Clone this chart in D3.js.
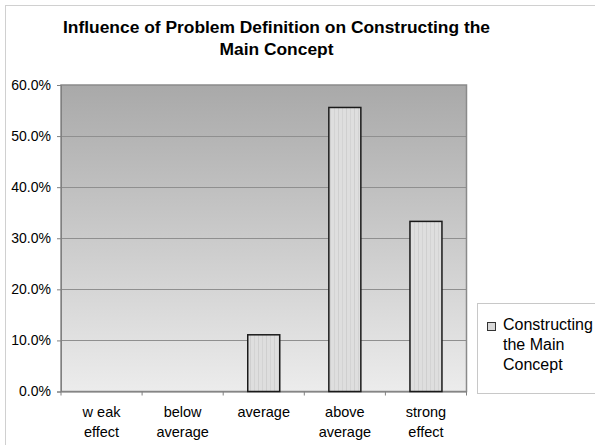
<!DOCTYPE html>
<html><head><meta charset="utf-8">
<script src="https://cdn.jsdelivr.net/npm/d3@7"></script>
<style>body{margin:0;background:#fff}svg{display:block;font-family:"Liberation Sans",Arial,sans-serif}</style>
</head><body>
<script>
const categories = [["w eak","effect"],["below","average"],["average"],["above","average"],["strong","effect"]];
const values = [0, 0, 0.111, 0.556, 0.333];
const yTicks = [0, 0.1, 0.2, 0.3, 0.4, 0.5, 0.6];
const seriesName = ["Constructing", "the Main", "Concept"];
const titleLines = ["Influence of Problem Definition on Constructing the", "Main Concept"];

const W = 595, H = 445;
const svg = d3.select("body").append("svg").attr("width", W).attr("height", H);
const defs = svg.append("defs");
const grad = defs.append("linearGradient").attr("id","bg").attr("x1",0).attr("y1",0).attr("x2",0).attr("y2",1);
grad.append("stop").attr("offset","0%").attr("stop-color","#a9a9a9");
grad.append("stop").attr("offset","100%").attr("stop-color","#ececec");
const pat = defs.append("pattern").attr("id","stripes").attr("patternUnits","userSpaceOnUse").attr("width",8).attr("height",8);
pat.append("rect").attr("width",8).attr("height",8).attr("fill","#dedede");
pat.append("rect").attr("x",2).attr("width",1).attr("height",8).attr("fill","#cfcfcf");
pat.append("rect").attr("x",6).attr("width",1).attr("height",8).attr("fill","#d3d3d3");

// outer chart frame
svg.append("rect").attr("x",5.5).attr("y",5.5).attr("width",W).attr("height",H).attr("fill","none").attr("stroke","#d0d0d0");

const m = {left:61, right:466.5, top:85, bottom:391.5};
const x = d3.scaleBand().domain(d3.range(categories.length)).range([m.left, m.right]).paddingInner(0).paddingOuter(0);
const y = d3.scaleLinear().domain([0, 0.6]).range([m.bottom, m.top]);

svg.append("rect").attr("x",m.left).attr("y",m.top).attr("width",m.right-m.left).attr("height",m.bottom-m.top).attr("fill","url(#bg)");

// gridlines
svg.append("g").selectAll("line").data(yTicks.filter(d=>d>0 && d<0.6)).join("line")
  .attr("x1",m.left).attr("x2",m.right).attr("y1",d=>Math.round(y(d))+0.5).attr("y2",d=>Math.round(y(d))+0.5)
  .attr("stroke","#8f8f8f").attr("stroke-width",1);

svg.append("rect").attr("x",m.left).attr("y",m.top).attr("width",m.right-m.left).attr("height",m.bottom-m.top)
  .attr("fill","none").attr("stroke","#8a8a8a").attr("stroke-width",1.5);

// y axis
const yAxis = svg.append("g").attr("transform",`translate(${m.left},0)`)
  .call(d3.axisLeft(y).tickValues(yTicks).tickFormat(d3.format(".1%")).tickSize(4).tickPadding(6));
yAxis.select(".domain").attr("stroke","#808080");
yAxis.selectAll(".tick line").attr("stroke","#808080");
yAxis.selectAll("text").attr("font-size",14).attr("fill","#000").attr("font-family","'Liberation Sans',Arial,sans-serif");

// x axis
const xAxis = svg.append("g").attr("transform",`translate(0,${m.bottom})`)
  .call(d3.axisBottom(x).tickFormat("").tickSize(0));
xAxis.select(".domain").attr("stroke","#808080");
svg.append("g").selectAll("line").data(d3.range(categories.length+1)).join("line")
  .attr("x1",i=>i<categories.length?x(i):m.right).attr("x2",i=>i<categories.length?x(i):m.right)
  .attr("y1",m.bottom).attr("y2",m.bottom+4).attr("stroke","#808080");

const xl = svg.append("g").selectAll("text").data(categories).join("text")
  .attr("x",(d,i)=>x(i)+x.bandwidth()/2).attr("y",417).attr("text-anchor","middle")
  .attr("font-size",14.5).attr("fill","#000");
xl.selectAll("tspan").data(d=>d).join("tspan")
  .attr("x",function(){return this.parentNode.getAttribute("x");})
  .attr("dy",(d,i)=>i===0?0:20).text(d=>d);

// bars
const bw = 32;
svg.append("g").selectAll("rect").data(values.map((v,i)=>({v,i})).filter(d=>d.v>0)).join("rect")
  .attr("x",d=>x(d.i)+x.bandwidth()/2-bw/2).attr("y",d=>y(d.v)).attr("width",bw).attr("height",d=>y(0)-y(d.v))
  .attr("fill","url(#stripes)").attr("stroke","#1a1a1a").attr("stroke-width",1.5);

// title
svg.append("g").selectAll("text").data(titleLines).join("text")
  .attr("x",276.5).attr("y",(d,i)=>33+i*22).attr("text-anchor","middle")
  .attr("font-size",17.4).attr("font-weight","bold").attr("fill","#000").text(d=>d);

// legend
svg.append("rect").attr("x",477.5).attr("y",303.5).attr("width",130).attr("height",90).attr("fill","#fff").attr("stroke","#c8c8c8");
svg.append("rect").attr("x",487.5).attr("y",322.5).attr("width",8).attr("height",8).attr("fill","#d8d8d8").attr("stroke","#333");
svg.append("g").selectAll("text").data(seriesName).join("text")
  .attr("x",503).attr("y",(d,i)=>330+i*20).attr("font-size",16).attr("fill","#000").text(d=>d);
</script>
</body></html>
